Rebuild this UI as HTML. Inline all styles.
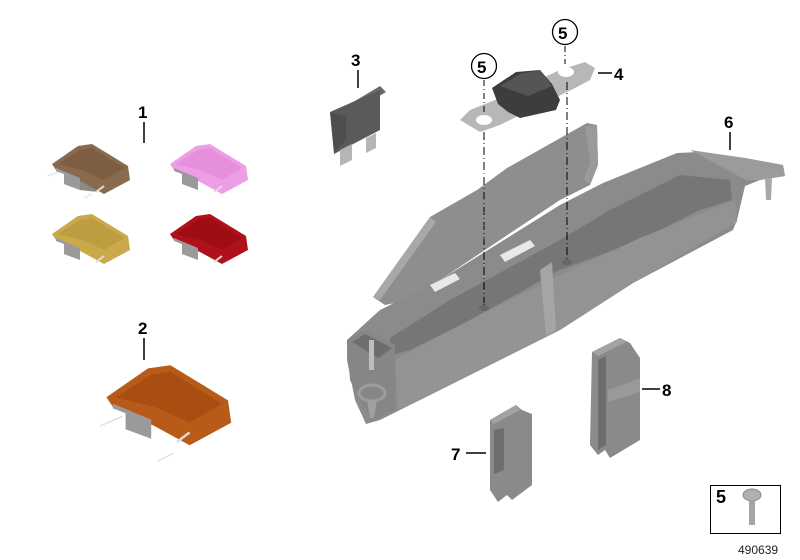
<!DOCTYPE html>
<html><head><meta charset="utf-8"><style>
html,body{margin:0;padding:0;background:#fff;}
svg{display:block;}
text{font-family:"Liberation Sans",Arial,sans-serif;font-weight:bold;fill:#000;}
</style></head><body>
<svg width="800" height="560" viewBox="0 0 800 560" xmlns="http://www.w3.org/2000/svg">
<defs>
<g id="fz">
  <line x1="0" y1="34" x2="10" y2="30" stroke="#ddd" stroke-width="1"/>
  <line x1="36" y1="56" x2="44" y2="52" stroke="#ddd" stroke-width="1"/>
  <polygon points="8,26 32,36 32,48 16,42 16,32 8,29" fill="#9a9a9a"/>
  <polygon points="32,36 50,42 50,50 32,48" fill="#8a8a8a"/>
</g>
</defs>

<!-- Labels 1 & 2 -->
<text x="138" y="118" font-size="17">1</text>
<line x1="144" y1="122" x2="144" y2="143" stroke="#000" stroke-width="1.5"/>
<text x="138" y="334" font-size="17">2</text>
<line x1="144" y1="338" x2="144" y2="360" stroke="#000" stroke-width="1.5"/>

<!-- small fuses -->
<g transform="translate(48,142)">
 <use href="#fz"/>
 <polygon points="4,22 30,4 44,2 80,24 82,38 56,52 34,40 8,28" fill="#8a6a4c"/>
 <polygon points="10,22 32,8 44,6 76,26 56,38 34,28" fill="#7d5e42"/>
 <polygon points="8,26 32,36 32,48 16,42 16,32 8,29" fill="#9a9a9a"/>
 <line x1="48" y1="50" x2="56" y2="44" stroke="#ddd" stroke-width="2"/>
</g>
<g transform="translate(166,142)">
 <polygon points="4,22 30,4 44,2 80,24 82,38 56,52 34,40 8,28" fill="#ee9ee6"/>
 <polygon points="10,22 32,8 44,6 76,26 56,38 34,28" fill="#e58fdd"/>
 <polygon points="8,26 32,36 32,48 16,42 16,32 8,29" fill="#9a9a9a"/>
 <line x1="48" y1="50" x2="56" y2="44" stroke="#ddd" stroke-width="2"/>
</g>
<g transform="translate(48,212)">
 <polygon points="4,22 30,4 44,2 80,24 82,38 56,52 34,40 8,28" fill="#c9a94a"/>
 <polygon points="10,22 32,8 44,6 76,26 56,38 34,28" fill="#bd9d40"/>
 <polygon points="8,26 32,36 32,48 16,42 16,32 8,29" fill="#9a9a9a"/>
 <line x1="48" y1="50" x2="56" y2="44" stroke="#ddd" stroke-width="2"/>
</g>
<g transform="translate(166,212)">
 <polygon points="4,22 30,4 44,2 80,24 82,38 56,52 34,40 8,28" fill="#b0101a"/>
 <polygon points="10,22 32,8 44,6 76,26 56,38 34,28" fill="#a00c14"/>
 <polygon points="8,26 32,36 32,48 16,42 16,32 8,29" fill="#9a9a9a"/>
 <line x1="48" y1="50" x2="56" y2="44" stroke="#ddd" stroke-width="2"/>
</g>
<!-- big fuse -->
<g transform="translate(100,362) scale(1.6)">
 <line x1="0" y1="40" x2="14" y2="34" stroke="#ddd" stroke-width="0.8"/>
 <line x1="36" y1="62" x2="46" y2="57" stroke="#ddd" stroke-width="0.8"/>
 <polygon points="4,22 30,4 44,2 80,24 82,38 56,52 34,40 8,28" fill="#b85a18"/>
 <polygon points="10,22 32,8 44,6 76,26 56,38 34,28" fill="#a84e12"/>
 <polygon points="8,26 32,36 32,48 16,42 16,32 8,29" fill="#9a9a9a"/>
 <line x1="48" y1="50" x2="56" y2="44" stroke="#ddd" stroke-width="1.5"/>
</g>

<!-- part 3 -->
<text x="351" y="66" font-size="17">3</text>
<line x1="358" y1="70" x2="358" y2="88" stroke="#000" stroke-width="1.5"/>
<polygon points="340,110 380,86 386,92 346,116" fill="#6a6a6a"/>
<polygon points="330,112 380,90 380,130 334,154" fill="#5a5a5a"/>
<polygon points="330,112 346,116 346,140 334,152" fill="#4e4e4e"/>
<polygon points="340,150 352,144 352,160 340,166" fill="#b5b5b5"/>
<polygon points="366,138 376,133 376,148 366,153" fill="#b5b5b5"/>

<!-- part 4 -->
<polygon points="460,120 470,110 500,98 560,70 585,62 595,68 590,80 575,88 500,125 480,132" fill="#b7b7b7"/>
<ellipse cx="484" cy="120" rx="8" ry="5" fill="#fff"/>
<ellipse cx="566" cy="72" rx="8" ry="5" fill="#fff"/>
<polygon points="492,88 516,72 540,70 552,84 560,100 556,110 520,118 508,112 498,104" fill="#3d3d3d"/>
<polygon points="500,86 520,74 540,70 552,86 528,96" fill="#555"/>
<line x1="598" y1="73" x2="612" y2="73" stroke="#000" stroke-width="1.5"/>
<text x="614" y="80" font-size="17">4</text>

<!-- circles 5 -->
<circle cx="484" cy="66" r="12.5" fill="#fff" stroke="#000" stroke-width="1.3"/>
<text x="477" y="73" font-size="17">5</text>
<circle cx="565" cy="32" r="12.5" fill="#fff" stroke="#000" stroke-width="1.3"/>
<text x="558" y="39" font-size="17">5</text>
<line x1="484" y1="80" x2="484" y2="112" stroke="#000" stroke-width="1" stroke-dasharray="6,3,1,3"/>
<line x1="565" y1="46" x2="565" y2="64" stroke="#000" stroke-width="1" stroke-dasharray="6,3,1,3"/>

<!-- housing 6 -->
<!-- lid -->
<polygon points="373,297 430,217 477,190 507,168 587,123 597,125 598,165 590,185 560,200 440,280 410,300 385,305" fill="#8e8e8e"/>
<polygon points="373,297 430,217 436,222 380,300" fill="#a8a8a8"/>
<polygon points="585,126 597,125 598,165 590,185 584,180 590,162" fill="#9a9a9a"/>
<!-- main body -->
<polygon points="347,340 380,310 440,280 560,205 603,183 677,153 700,152 745,158 783,165 785,176 760,180 745,186 737,220 733,230 633,283 560,330 420,400 380,420 366,424 355,400 347,360" fill="#8b8b8b"/>
<!-- inner dark trough -->
<polygon points="390,338 450,300 560,240 610,210 680,175 730,180 732,200 700,210 640,240 560,270 470,320 410,350 392,355" fill="#767676"/>
<!-- front wall -->
<polygon points="395,360 470,320 560,275 640,238 735,200 737,222 633,283 560,330 420,400 398,410" fill="#939393"/>
<polygon points="540,270 552,262 556,330 546,336" fill="#a5a5a5"/>
<!-- left end -->
<polygon points="347,340 365,330 395,345 395,410 372,420 360,400 350,380" fill="#868686"/>
<polygon points="352,342 365,334 392,348 378,358" fill="#6d6d6d"/>
<rect x="369" y="340" width="5" height="30" fill="#bdbdbd"/>
<ellipse cx="372" cy="393" rx="13" ry="8" fill="none" stroke="#9c9c9c" stroke-width="3"/>
<polygon points="367,400 377,400 374,418 370,418" fill="#a0a0a0"/>
<!-- slots -->
<polygon points="500,255 530,240 535,246 505,262" fill="#e8e8e8"/>
<polygon bpoints="" points="430,285 455,273 460,279 435,292" fill="#e8e8e8"/>
<!-- tab & peg -->
<polygon points="690,150 745,158 783,165 785,176 760,180 746,180" fill="#9b9b9b"/>
<polygon points="765,178 772,178 771,200 766,200" fill="#a8a8a8"/>
<line x1="730" y1="132" x2="730" y2="150" stroke="#000" stroke-width="1.5"/>
<text x="724" y="128" font-size="17">6</text>

<!-- dash lines through housing -->
<line x1="484" y1="132" x2="484" y2="305" stroke="#000" stroke-width="1" stroke-dasharray="8,3,1,3"/>
<line x1="567" y1="82" x2="567" y2="262" stroke="#000" stroke-width="1" stroke-dasharray="8,3,1,3"/>
<line x1="484" y1="160" x2="484" y2="305" stroke="#fff" stroke-width="0.6" stroke-dasharray="1,12" opacity="0.6"/>
<ellipse cx="484" cy="308" rx="5" ry="3" fill="#666"/>
<ellipse cx="567" cy="262" rx="5" ry="3" fill="#666"/>

<!-- clip 8 -->
<polygon points="592,352 620,338 630,343 640,358 640,440 610,458 605,450 598,455 590,445" fill="#8a8a8a"/>
<polygon points="592,352 620,338 626,342 598,356" fill="#a2a2a2"/>
<polygon points="598,360 606,356 606,445 598,450" fill="#6e6e6e"/>
<polygon points="608,390 640,378 640,392 608,402" fill="#9a9a9a"/>
<line x1="642" y1="389" x2="660" y2="389" stroke="#000" stroke-width="1.5"/>
<text x="662" y="396" font-size="17">8</text>

<!-- clip 7 -->
<polygon points="490,420 516,405 522,410 532,414 532,485 512,500 507,495 498,502 490,490" fill="#8a8a8a"/>
<polygon points="490,420 516,405 520,410 494,424" fill="#a2a2a2"/>
<polygon points="494,430 504,428 504,470 494,474" fill="#6e6e6e"/>
<line x1="466" y1="453" x2="486" y2="453" stroke="#000" stroke-width="1.5"/>
<text x="451" y="460" font-size="17">7</text>

<!-- box 5 screw -->
<rect x="710.5" y="485.5" width="70" height="48" fill="#fff" stroke="#000" stroke-width="1"/>
<text x="716" y="503" font-size="18">5</text>
<ellipse cx="752" cy="495" rx="9" ry="6" fill="#b0b0b0" stroke="#8a8a8a"/>
<rect x="749" y="500" width="6" height="25" fill="#a5a5a5"/>
<text x="738" y="554" font-size="12" style="font-weight:normal;fill:#222">490639</text>
</svg>
</body></html>
